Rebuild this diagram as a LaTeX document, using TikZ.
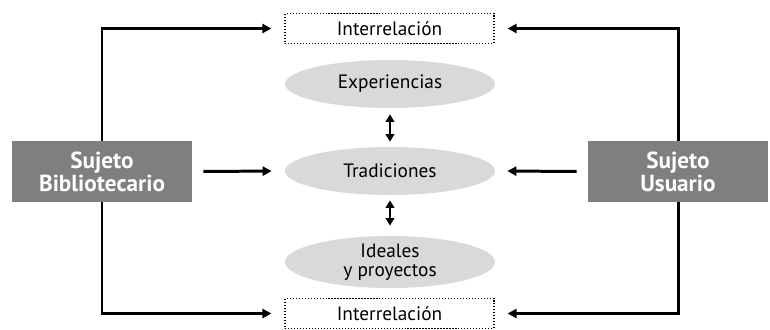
\documentclass[tikz,border=0pt]{standalone}
\usepackage{fontspec}
\setmainfont{PT Sans}
\usepackage{xcolor}
\usetikzlibrary{arrows.meta,shapes.geometric}

\definecolor{subjgray}{HTML}{7F7F7F}
\definecolor{ovalgray}{HTML}{D9D9D9}

\begin{document}
\begin{tikzpicture}[x=0.02cm, y=-0.02cm,
  subject/.style={fill=subjgray, text=white, font=\fontsize{13.2}{12}\selectfont\bfseries, align=center, minimum width=3.6cm, minimum height=1.22cm, inner sep=0pt},
  oval/.style={ellipse, fill=ovalgray, font=\fontsize{11}{11}\selectfont, align=center, minimum width=4.2cm, minimum height=0.96cm, inner sep=0pt},
  linkbox/.style={draw, densely dotted, line width=0.7pt, font=\fontsize{11}{12}\selectfont, minimum width=4.18cm, minimum height=0.6cm, inner sep=0pt},
  conn/.style={line width=1.7pt, -{Triangle[length=0.18cm, width=0.18cm]}},
  both/.style={line width=1.5pt, {Triangle[length=0.15cm, width=0.17cm]}-{Triangle[length=0.15cm, width=0.17cm]}}]
\useasboundingbox (0,0) rectangle (770,329);

\node[linkbox] (itop) at (389.5,28.5) {Interrelación};
\node[linkbox] (ibot) at (389.5,313.5) {Interrelación};

\node[oval] (exp) at (390,84) {Experiencias};
\node[oval] (trad) at (390,171) {Tradiciones};
\node[oval] (ideal) at (390,262) {Ideales\\y proyectos};

\node[subject] (bib) at (102,171.5) {Sujeto\\Bibliotecario};
\node[subject] (usu) at (678,171.5) {Sujeto\\Usuario};

% lado del bibliotecario
\draw[conn, shorten >=0.26cm] (bib.north) |- (itop.west);
\draw[conn, shorten >=0.26cm] (bib.south) |- (ibot.west);
\draw[conn, shorten <=0.22cm, shorten >=0.26cm] (bib.east) -- (trad.west);

% lado del usuario
\draw[conn, shorten >=0.26cm] (usu.north) |- (itop.east);
\draw[conn, shorten >=0.26cm] (usu.south) |- (ibot.east);
\draw[conn, shorten <=0.22cm, shorten >=0.24cm] (usu.west) -- (trad.east);

% entre los ovalos
\draw[both, shorten <=0.12cm, shorten >=0.1cm] (exp.south) -- (trad.north);
\draw[both, shorten <=0.1cm, shorten >=0.2cm] (trad.south) -- (ideal.north);
\end{tikzpicture}
\end{document}
